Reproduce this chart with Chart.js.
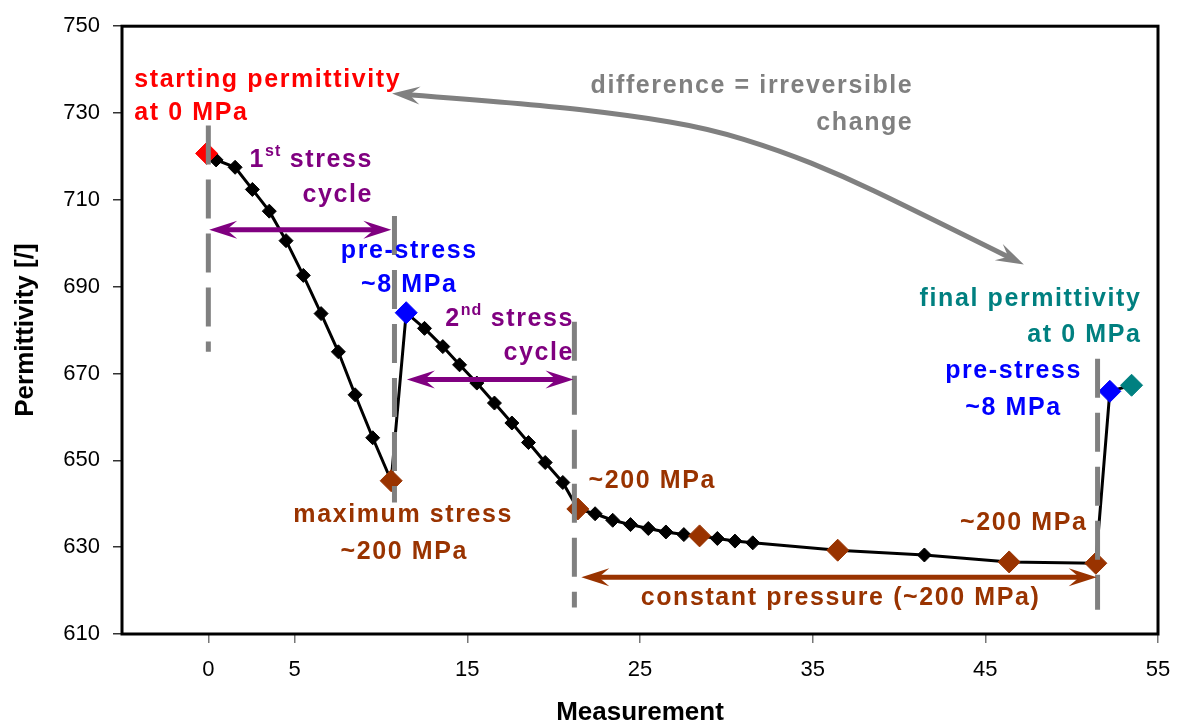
<!DOCTYPE html>
<html>
<head>
<meta charset="utf-8">
<title>Permittivity per measurement</title>
<script src="https://cdn.jsdelivr.net/npm/chart.js@4.4.0/dist/chart.umd.min.js"></script>
<style>
  html, body { margin: 0; padding: 0; background: #fff; }
  #wrap { position: relative; width: 1178px; height: 724px; }
</style>
</head>
<body>
<div id="wrap"><canvas id="chart"></canvas></div>
<script>
// ============================================
// DATA
// ============================================

const measurement = [
    -0.1, 0.45, 1.55, 2.55, 3.53, 4.5, 5.5, 6.53, 7.53, 8.5, 9.52,
    10.59, 11.46,
    12.52, 13.58, 14.55, 15.55, 16.57, 17.58, 18.54, 19.51, 20.53,
    21.4, 22.4, 23.42, 24.45, 25.48, 26.5, 27.54,
    28.45, 29.48, 30.5, 31.53,
    36.45, 41.47, 46.38, 51.4, 52.21, 53.47
];

const permittivity = [
    720.7, 719.2, 717.5, 712.4, 707.4, 700.6, 692.6, 683.8, 675.0, 665.1, 655.2,
    645.3, 684.0,
    680.4, 676.2, 672.0, 667.8, 663.2, 658.6, 654.1, 649.5, 644.9,
    638.8, 637.7, 636.2, 635.2, 634.3, 633.5, 632.9,
    632.6, 632.0, 631.4, 631.0,
    629.3, 628.2, 626.6, 626.3, 665.9, 667.3
];

// K plain, S start, M ~200 MPa, P pre-stress, F final
const stage = [
    'S', 'K', 'K', 'K', 'K', 'K', 'K', 'K', 'K', 'K', 'K',
    'M', 'P',
    'K', 'K', 'K', 'K', 'K', 'K', 'K', 'K', 'K',
    'M', 'K', 'K', 'K', 'K', 'K', 'K',
    'M', 'K', 'K', 'K',
    'M', 'K', 'M', 'M', 'P', 'F'
];

const xTickValues = [0, 5, 15, 25, 35, 45, 55];
const yTickValues = [610, 630, 650, 670, 690, 710, 730, 750];

// ============================================
// COLOURS
// ============================================

const colors = {
    K: '#000000',
    S: '#ff0000',
    M: '#993300',
    P: '#0000ff',
    F: '#008080',
    purple: '#800080',
    grey: '#808080'
};

// ============================================
// ANNOTATIONS (data units)
// ============================================

// vertical dashed markers: [x, yTop, yBottom]
const markerLines = [
    [0, 727.1, 675.0],
    [10.78, 706.3, 640.3],
    [21.2, 681.9, 616.1],
    [51.5, 673.4, 615.6]
];

// double headed arrows: [x1, x2, y, colour]
const spanArrows = [
    [0.05, 10.6, 703.1, colors.purple],
    [11.5, 21.15, 668.6, colors.purple],
    [21.6, 51.45, 623.1, colors.M]
];

// curved arrow between start and final value
const changeCurve = [
    [10.64, 734.5], [18.43, 732.2], [24.54, 729.4], [28.92, 726.5],
    [33.09, 721.4], [36.74, 715.5], [40.39, 708.6], [47.23, 695.1]
];

// text: [text, x, y, align, colour]  ({..} = superscript)
const notes = [
    ['starting permittivity', -4.29, 737.5, 'left', colors.S],
    ['at 0 MPa', -4.29, 729.9, 'left', colors.S],
    ['1{st} stress', 9.45, 719.2, 'right', colors.purple],
    ['cycle', 9.45, 711.2, 'right', colors.purple],
    ['pre-stress', 11.59, 698.3, 'center', colors.P],
    ['~8 MPa', 11.59, 690.3, 'center', colors.P],
    ['2{nd} stress', 21.09, 682.6, 'right', colors.purple],
    ['cycle', 21.09, 674.6, 'right', colors.purple],
    ['maximum stress', 11.24, 637.3, 'center', colors.M],
    ['~200 MPa', 11.3, 628.9, 'center', colors.M],
    ['~200 MPa', 22.02, 645.3, 'left', colors.M],
    ['~200 MPa', 50.82, 635.5, 'right', colors.M],
    ['constant pressure (~200 MPa)', 36.57, 618.3, 'center', colors.M],
    ['difference = irreversible', 40.74, 736.1, 'right', colors.grey],
    ['change', 40.74, 727.6, 'right', colors.grey],
    ['final permittivity', 53.95, 687.1, 'right', colors.F],
    ['at 0 MPa', 53.95, 678.9, 'right', colors.F],
    ['pre-stress', 46.59, 670.5, 'center', colors.P],
    ['~8 MPa', 46.59, 662.1, 'center', colors.P]
];

const FONT = '"Liberation Sans", Arial, sans-serif';
const SPACING = 1.6;

// ============================================
// DRAW HELPERS
// ============================================

function arrowHead(ctx, x, y, ang, color) {
    const L = 28, W = 9;
    ctx.save();
    ctx.translate(x, y);
    ctx.rotate(ang);
    ctx.beginPath();
    ctx.moveTo(0, 0);
    ctx.lineTo(-L, -W);
    ctx.lineTo(-L * 0.62, 0);
    ctx.lineTo(-L, W);
    ctx.closePath();
    ctx.fillStyle = color;
    ctx.fill();
    ctx.restore();
}

function splitSup(text) {
    const parts = [];
    const re = /\{([^}]*)\}/g;
    let last = 0, m;
    while ((m = re.exec(text))) {
        if (m.index > last) parts.push({ t: text.slice(last, m.index), sup: false });
        parts.push({ t: m[1], sup: true });
        last = re.lastIndex;
    }
    if (last < text.length) parts.push({ t: text.slice(last), sup: false });
    return parts;
}

function drawNote(ctx, text, px, py, align, color) {
    const parts = splitSup(text);
    const big = 'bold 25px ' + FONT;
    const small = 'bold 16px ' + FONT;
    ctx.fillStyle = color;
    ctx.textBaseline = 'middle';
    ctx.textAlign = 'left';
    let total = 0;
    parts.forEach(p => {
        ctx.font = p.sup ? small : big;
        ctx.letterSpacing = (p.sup ? 1 : SPACING) + 'px';
        p.w = ctx.measureText(p.t).width;
        total += p.w;
    });
    total -= SPACING;
    let x = px;
    if (align === 'right') x = px - total;
    if (align === 'center') x = px - total / 2;
    parts.forEach(p => {
        ctx.font = p.sup ? small : big;
        ctx.letterSpacing = (p.sup ? 1 : SPACING) + 'px';
        ctx.fillText(p.t, x, p.sup ? py - 8 : py);
        x += p.w;
    });
    ctx.letterSpacing = '0px';
}

// ============================================
// PLUGIN: markers, arrows, texts, frame
// ============================================

const annotate = {
    id: 'annotate',
    afterDatasetsDraw(chart) {
        const { ctx, scales: { x, y } } = chart;
        ctx.save();

        // dashed stage markers
        ctx.strokeStyle = colors.grey;
        ctx.lineWidth = 5;
        ctx.setLineDash([39, 15]);
        markerLines.forEach(([mx, y1, y2]) => {
            ctx.beginPath();
            ctx.moveTo(x.getPixelForValue(mx), y.getPixelForValue(y1));
            ctx.lineTo(x.getPixelForValue(mx), y.getPixelForValue(y2));
            ctx.stroke();
        });
        ctx.setLineDash([]);

        // double arrows
        spanArrows.forEach(([x1, x2, yy, c]) => {
            const a = x.getPixelForValue(x1);
            const b = x.getPixelForValue(x2);
            const py = y.getPixelForValue(yy);
            ctx.strokeStyle = c;
            ctx.lineWidth = 5;
            ctx.beginPath();
            ctx.moveTo(a + 16, py);
            ctx.lineTo(b - 16, py);
            ctx.stroke();
            arrowHead(ctx, a, py, Math.PI, c);
            arrowHead(ctx, b, py, 0, c);
        });

        // curved grey arrow
        const pts = changeCurve.map(([cx, cy]) => [x.getPixelForValue(cx), y.getPixelForValue(cy)]);
        const n = pts.length;
        const angA = Math.atan2(pts[0][1] - pts[1][1], pts[0][0] - pts[1][0]);
        const angB = Math.atan2(pts[n - 1][1] - pts[n - 2][1], pts[n - 1][0] - pts[n - 2][0]);
        const start = [pts[0][0] - Math.cos(angA) * 16, pts[0][1] - Math.sin(angA) * 16];
        const end = [pts[n - 1][0] - Math.cos(angB) * 16, pts[n - 1][1] - Math.sin(angB) * 16];
        ctx.strokeStyle = colors.grey;
        ctx.lineWidth = 5;
        ctx.lineJoin = 'round';
        ctx.beginPath();
        ctx.moveTo(start[0], start[1]);
        for (let i = 1; i < n - 1; i++) {
            const mxp = (pts[i][0] + pts[i + 1][0]) / 2;
            const myp = (pts[i][1] + pts[i + 1][1]) / 2;
            if (i === n - 2) ctx.quadraticCurveTo(pts[i][0], pts[i][1], end[0], end[1]);
            else ctx.quadraticCurveTo(pts[i][0], pts[i][1], mxp, myp);
        }
        ctx.stroke();
        arrowHead(ctx, pts[0][0], pts[0][1], angA, colors.grey);
        arrowHead(ctx, pts[n - 1][0], pts[n - 1][1], angB, colors.grey);

        // texts
        notes.forEach(([t, nx, ny, al, c]) => {
            drawNote(ctx, t, x.getPixelForValue(nx), y.getPixelForValue(ny), al, c);
        });

        ctx.restore();
    },
    afterDraw(chart) {
        const { ctx, chartArea: a } = chart;
        ctx.save();
        ctx.strokeStyle = '#000';
        ctx.lineWidth = 3;
        ctx.strokeRect(a.left, a.top, a.right - a.left, a.bottom - a.top);
        ctx.restore();
    }
};

// ============================================
// CHART
// ============================================

const allPoints = measurement.map((m, i) => ({ x: m, y: permittivity[i] }));
const keyIdx = stage.map((s, i) => i).filter(i => stage[i] !== 'K');

new Chart(document.getElementById('chart'), {
    type: 'line',
    data: {
        datasets: [
            {
                label: 'stages',
                data: keyIdx.map(i => allPoints[i]),
                showLine: false,
                pointStyle: 'rectRot',
                pointRadius: 11,
                pointBackgroundColor: keyIdx.map(i => colors[stage[i]]),
                pointBorderColor: keyIdx.map(i => colors[stage[i]]),
                pointBorderWidth: 1,
                order: 0
            },
            {
                label: 'Permittivity',
                data: allPoints,
                borderColor: '#000',
                borderWidth: 3,
                pointStyle: 'rectRot',
                pointRadius: stage.map(s => s === 'K' ? 7 : 0),
                pointBackgroundColor: '#000',
                pointBorderColor: '#000',
                pointBorderWidth: 1,
                tension: 0,
                order: 1
            }
        ]
    },
    options: {
        responsive: true,
        maintainAspectRatio: false,
        animation: false,
        layout: { padding: { top: 22, right: 20, left: 0, bottom: 0 } },
        plugins: {
            legend: { display: false },
            tooltip: { enabled: false }
        },
        scales: {
            x: {
                type: 'linear',
                min: -5,
                max: 55,
                afterBuildTicks: (scale) => {
                    scale.ticks = xTickValues.map(v => ({ value: v }));
                },
                afterFit: (scale) => {
                    scale.height = 90;
                    scale.paddingLeft = 0;
                    scale.paddingRight = 0;
                },
                border: { display: false },
                grid: {
                    drawOnChartArea: false,
                    drawTicks: true,
                    tickLength: 9,
                    color: '#777',
                    lineWidth: 1.5
                },
                ticks: {
                    color: '#000',
                    padding: 14,
                    maxRotation: 0,
                    font: { family: FONT, size: 22 }
                },
                title: {
                    display: true,
                    text: 'Measurement',
                    color: '#000',
                    padding: { top: 0, bottom: 0 },
                    font: { family: FONT, size: 26, weight: 'bold', lineHeight: 0.85 }
                }
            },
            y: {
                min: 610,
                max: 750,
                afterBuildTicks: (scale) => {
                    scale.ticks = yTickValues.map(v => ({ value: v }));
                },
                afterFit: (scale) => { scale.width = 122; },
                border: { display: false },
                grid: {
                    drawOnChartArea: false,
                    drawTicks: true,
                    tickLength: 9,
                    color: '#333',
                    lineWidth: 1.5
                },
                ticks: {
                    color: '#000',
                    padding: 13,
                    font: { family: FONT, size: 22 }
                },
                title: {
                    display: true,
                    text: 'Permittivity [/]',
                    color: '#000',
                    padding: { top: 10, bottom: 0 },
                    font: { family: FONT, size: 26, weight: 'bold', lineHeight: 1.2 }
                }
            }
        }
    },
    plugins: [annotate]
});
</script>
</body>
</html>
